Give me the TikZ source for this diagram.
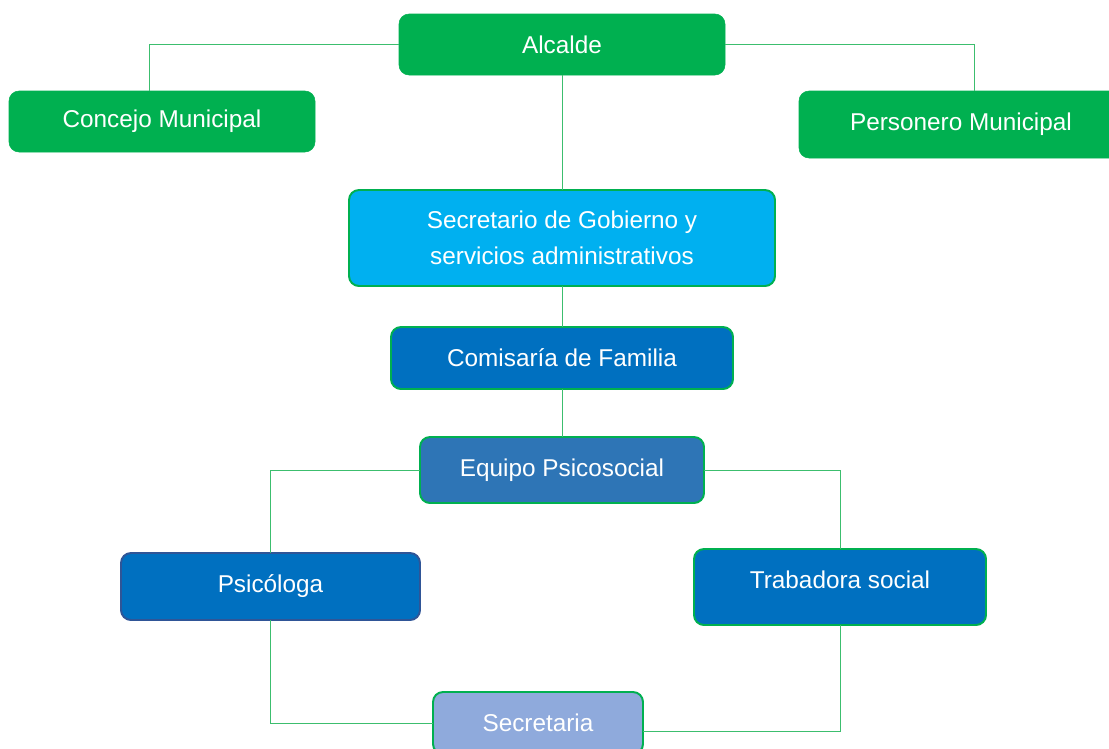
\documentclass[tikz,border=0pt]{standalone}
\usepackage{fontspec}
\setmainfont{Liberation Sans}
\usetikzlibrary{positioning}
\definecolor{boxgreen}{RGB}{0,176,80}
\definecolor{linegreen}{RGB}{60,190,110}
\definecolor{skyblue}{RGB}{0,176,240}
\definecolor{midblue}{RGB}{0,112,192}
\definecolor{steelblue}{RGB}{46,117,182}
\definecolor{paleblue}{RGB}{143,170,220}
\definecolor{darkblue}{RGB}{47,85,151}

\begin{document}
\begin{tikzpicture}[
		orgbox/.style={rectangle,rounded corners=0.25cm,text=white,align=center,outer sep=0pt,
		font=\fontsize{17.3}{25.6}\selectfont},
		greenbox/.style={orgbox,fill=boxgreen,draw=boxgreen},
		bluebox/.style={orgbox,draw=boxgreen,line width=1.4pt},
		link/.style={draw=linegreen,line width=0.7pt}
		]
		\useasboundingbox (0,0) rectangle (27.725,-18.725);
		\node[greenbox, minimum width=8.15cm, minimum height=1.525cm](Alc) at (14.05,-1.1125){Alcalde};
		\node[greenbox, minimum width=7.65cm, minimum height=1.525cm, below left=0.4cm and 2.1cm of Alc](Con){Concejo Municipal};
		\node[greenbox, minimum width=8.1cm, minimum height=1.675cm, below right=0.4cm and 1.85cm of Alc](Per){Personero Municipal};
		\node[bluebox, fill=skyblue, minimum width=10.65cm, minimum height=2.4cm, below=2.875cm of Alc](Sec){Secretario de Gobierno y\\servicios administrativos};
		\node[bluebox, fill=midblue, minimum width=8.55cm, minimum height=1.55cm, below=1.025cm of Sec](Com){Comisaría de Familia};
		\node[bluebox, fill=steelblue, minimum width=7.1cm, minimum height=1.65cm, below=1.2cm of Com](Equ){Equipo Psicosocial};
		\node[bluebox, fill=midblue, draw=darkblue, minimum width=7.475cm, minimum height=1.675cm, below left=1.25cm and 0cm of Equ](Psi){Psicóloga};
		\node[bluebox, fill=midblue, minimum width=7.3cm, minimum height=1.9cm, text depth=0.35cm, below right=1.15cm and -0.25cm of Equ](Tra){Trabadora social};
		\node[bluebox, fill=paleblue, minimum width=5.25cm, minimum height=1.55cm, below right=1.8cm and 0.325cm of Psi](Sra){Secretaria};

		\draw[link] (Alc.west) -| ([xshift=-0.325cm]Con.north);
		\draw[link] (Alc.east) -| ([xshift=0.325cm]Per.north);
		\draw[link] (Alc.south) -- (Sec.north);
		\draw[link] (Sec.south) -- (Com.north);
		\draw[link] (Com.south) -- (Equ.north);
		\draw[link] (Equ.west) -| (Psi.north);
		\draw[link] (Equ.east) -| (Tra.north);
		\draw[link] (Psi.south) |- (Sra.west);
		\draw[link] (Tra.south) |- ([yshift=-0.2cm]Sra.east);

	\end{tikzpicture}
\end{document}
